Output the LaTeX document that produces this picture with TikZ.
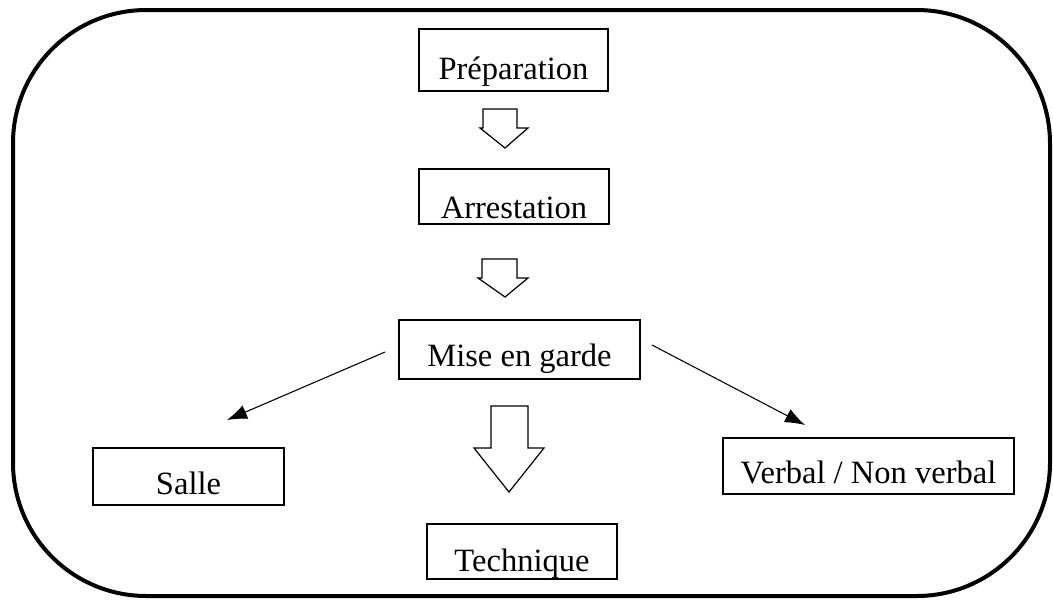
\documentclass[tikz,border=0pt]{standalone}
\usepackage{fontspec}
\setmainfont{Liberation Serif}
\usetikzlibrary{arrows.meta}
\tikzset{
  stage/.style={draw=black, line width=1.5pt, inner xsep=0pt, inner ysep=0pt,
    minimum height=0pt, anchor=north west, align=center,
    font=\fontsize{24.4}{28}\selectfont},
  blockarrow/.style={draw=black, line width=0.9pt, fill=white, line join=miter},
  thinarrow/.style={draw=black, line width=0.8pt, -{Latex[length=15pt,width=11pt]}},
  frame/.style={draw=black, line width=3pt, rounded corners=100pt}
}
\begin{document}
\begin{tikzpicture}[x=0.75pt,y=-0.75pt]
\useasboundingbox (0,0) rectangle (1053,601);
\draw[frame] (13,10) rectangle (1050,596);

\node[stage, minimum width=141.75pt, text height=37.5pt, text depth=9pt] (prep) at (418,28) {Préparation};
\node[stage, minimum width=142.5pt, text height=36.75pt, text depth=4.5pt] (arr) at (418,168) {Arrestation};
\node[stage, minimum width=180.75pt, text height=34.5pt, text depth=9.75pt] (mg) at (398,319) {Mise en garde};
\node[stage, minimum width=142.5pt, text height=35.25pt, text depth=6pt] (tech) at (426,523) {Technique};
\node[stage, minimum width=143.25pt, text height=34.5pt, text depth=8.25pt] (salle) at (92,447) {Salle};
\node[stage, minimum width=218.25pt, text height=33.75pt, text depth=8.25pt] (verb) at (722,437) {Verbal / Non verbal};

% block arrows
\draw[blockarrow] (483,109) -- (517,109) -- (517,128) -- (528,128) -- (505,148) -- (480,128) -- (483,128) -- cycle;
\draw[blockarrow] (482,259) -- (517,259) -- (517,278) -- (528,278) -- (505,297) -- (478,278) -- (482,278) -- cycle;
\draw[blockarrow] (491,406) -- (528,406) -- (528,448) -- (544,448) -- (509,492) -- (474,448) -- (491,448) -- cycle;

% thin arrows
\coordinate (ls) at (385,352);
\coordinate (le) at (227,420);
\coordinate (rs) at (652,345);
\coordinate (re) at (805,425);
\draw[thinarrow] (ls) -- (le);
\draw[thinarrow] (rs) -- (re);
\end{tikzpicture}
\end{document}
